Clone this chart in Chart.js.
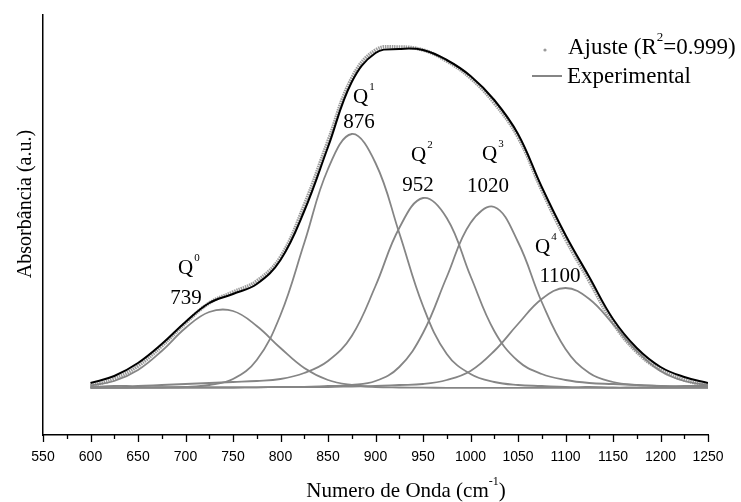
<!DOCTYPE html>
<html><head><meta charset="utf-8">
<script src="https://cdn.jsdelivr.net/npm/chart.js@4.4.1/dist/chart.umd.min.js"></script>
<style>html,body{margin:0;padding:0;background:#fff}#wrap{width:741px;height:502px;position:relative}canvas{display:block}</style>
</head><body><div id="wrap"><canvas id="c" width="741" height="502"></canvas></div>
<script>
// Wavenumber grid (cm-1)
const wavenumbers = [600, 625, 650, 675, 700, 725, 750, 775, 800, 825, 850, 875, 900, 925, 950, 975, 1000, 1025, 1050, 1075, 1100, 1125, 1150, 1175, 1200, 1225, 1250];
// Measured spectrum (black line), absorbance a.u.
const experimental = [5, 12, 25, 44, 66, 85, 94, 104, 128, 177, 241, 306, 335, 339, 338, 328, 312, 288, 254, 201, 153, 111, 69, 40, 21, 11, 5];
// Fit (grey dots)
const ajuste = [2, 9, 22, 42, 65, 85, 96, 107, 131, 183, 247, 310, 338, 341, 338, 327, 310, 285, 251, 198, 149, 107, 65, 36, 18, 8, 2];
// Deconvoluted components
const q0 = [2.5, 7, 18, 37, 60, 76, 77, 62, 40, 20, 8, 3, 1, 0.5, 0.3, 0.2, 0.2, 0.2, 0.2, 0.2, 0.2, 0.2, 0.2, 0.2, 0.2, 0.2, 0.2];
const q1 = [0, 0.2, 0.3, 0.5, 1, 3, 9, 28, 73, 145, 219, 254, 225, 155, 82, 34, 14, 6, 3, 2, 1, 1, 0.5, 0.5, 0.3, 0.3, 0.3];
const q2 = [1, 2, 2, 3, 4, 5, 6, 7, 9, 15, 27, 52, 102, 160, 190, 170, 112, 57, 27, 14, 8, 5, 4, 3, 2, 2, 2];
const q3 = [0.5, 0.5, 0.5, 0.5, 0.5, 0.5, 0.5, 0.7, 1, 1, 2, 3, 7, 21, 55, 111, 165, 181, 146, 86, 39, 15, 6, 3, 2, 1, 1];
const q4 = [0.5, 0.5, 0.5, 0.5, 0.5, 0.5, 0.5, 0.7, 1, 1, 1, 1.5, 2, 3, 4, 8, 17, 37, 64, 89, 100, 89, 64, 37, 17, 7, 3];
// Peak labels
const peakNames = ['0', '1', '2', '3', '4'];
const peakPositions = ['739', '876', '952', '1020', '1100'];
const xTickStep = 25;

const pts = arr => arr.map((v, i) => ({x: wavenumbers[i], y: v}));
const compStyle = {borderColor: '#858585', borderWidth: 1.8, pointRadius: 0, tension: 0.4, fill: false, order: 1};

const SERIF = '"Liberation Serif", "Times New Roman", serif';

const decor = {
  id: 'decor',
  afterDraw(chart) {
    const ctx = chart.ctx, xs = chart.scales.x, ca = chart.chartArea;
    ctx.save();
    // x ticks (major/minor)
    ctx.strokeStyle = '#000'; ctx.lineWidth = 1.3;
    xs.ticks.forEach(t => {
      const x = Math.round(xs.getPixelForValue(t.value)) + 0.5;
      const len = (t.value % 50 === 0) ? 7 : 4;
      ctx.beginPath(); ctx.moveTo(x, ca.bottom); ctx.lineTo(x, ca.bottom + len); ctx.stroke();
    });
    ctx.fillStyle = '#000';
    ctx.textBaseline = 'middle';
    // y title
    ctx.save();
    ctx.translate(26, 204); ctx.rotate(-Math.PI / 2);
    ctx.font = '20px ' + SERIF; ctx.textAlign = 'center';
    ctx.fillText('Absorbância (a.u.)', 0, 0);
    ctx.restore();
    // x title
    const main = 'Numero de Onda (cm', sup = '-1', end = ')';
    ctx.font = '21px ' + SERIF; const w1 = ctx.measureText(main).width, w3 = ctx.measureText(end).width;
    ctx.font = '12px ' + SERIF; const w2 = ctx.measureText(sup).width;
    let x0 = 406 - (w1 + w2 + w3) / 2; const ty = 491;
    ctx.textAlign = 'left';
    ctx.font = '21px ' + SERIF; ctx.fillText(main, x0, ty);
    ctx.font = '12px ' + SERIF; ctx.fillText(sup, x0 + w1, ty - 9);
    ctx.font = '21px ' + SERIF; ctx.fillText(end, x0 + w1 + w2, ty);
    // peak labels
    const lab = [
      {qx: 178, qy: 268, nx: 186, ny: 298},
      {qx: 353, qy: 97, nx: 359, ny: 122},
      {qx: 411, qy: 155, nx: 418, ny: 185},
      {qx: 482, qy: 154, nx: 488, ny: 186},
      {qx: 535, qy: 247, nx: 560, ny: 276}
    ];
    lab.forEach((p, i) => {
      ctx.textAlign = 'left';
      ctx.font = '21px ' + SERIF; ctx.fillText('Q', p.qx, p.qy);
      const qw = ctx.measureText('Q').width;
      ctx.font = '11px ' + SERIF; ctx.fillText(peakNames[i], p.qx + qw + 1, p.qy - 10);
      ctx.textAlign = 'center';
      ctx.font = '21px ' + SERIF; ctx.fillText(peakPositions[i], p.nx, p.ny);
    });
    // legend
    ctx.textAlign = 'left';
    ctx.fillStyle = '#9a9a9a';
    ctx.beginPath(); ctx.arc(545, 50, 1.6, 0, Math.PI * 2); ctx.fill();
    ctx.strokeStyle = '#858585'; ctx.lineWidth = 2;
    ctx.beginPath(); ctx.moveTo(532, 76); ctx.lineTo(562, 76); ctx.stroke();
    ctx.fillStyle = '#000';
    ctx.font = '23px ' + SERIF;
    const a1 = 'Ajuste (R'; ctx.fillText(a1, 568, 48);
    const aw = ctx.measureText(a1).width;
    ctx.font = '13px ' + SERIF; ctx.fillText('2', 568 + aw, 38);
    const sw = ctx.measureText('2').width;
    ctx.font = '23px ' + SERIF; ctx.fillText('=0.999)', 568 + aw + sw, 48);
    ctx.fillText('Experimental', 567, 77);
    ctx.restore();
  }
};

new Chart(document.getElementById('c'), {
  type: 'line',
  data: {
    datasets: [
      {label: 'Experimental', data: pts(experimental), borderColor: '#000', borderWidth: 2, pointRadius: 0, tension: 0.4, fill: false, order: 0},
      Object.assign({label: 'Q0', data: pts(q0)}, compStyle),
      Object.assign({label: 'Q1', data: pts(q1)}, compStyle),
      Object.assign({label: 'Q2', data: pts(q2)}, compStyle),
      Object.assign({label: 'Q3', data: pts(q3)}, compStyle),
      Object.assign({label: 'Q4', data: pts(q4)}, compStyle),
      {label: 'Ajuste', data: pts(ajuste), borderColor: '#9c9c9c', borderWidth: 3.5, borderDash: [1.5, 0.8], pointRadius: 0, tension: 0.4, fill: false, order: 2}
    ]
  },
  options: {
    responsive: false,
    animation: false,
    devicePixelRatio: 1,
    layout: {padding: {top: 15, right: 33, left: 0, bottom: 0}},
    plugins: {legend: {display: false}, tooltip: {enabled: false}},
    scales: {
      x: {
        type: 'linear', min: 550, max: 1250,
        afterFit: s => { s.height = 67; },
        ticks: {stepSize: xTickStep, autoSkip: false, maxRotation: 0, padding: 14, color: '#000',
          font: {family: '"Liberation Sans", Arial, sans-serif', size: 14},
          callback: v => (v % 50 === 0 ? String(v) : '')},
        grid: {display: true, drawOnChartArea: false, drawTicks: false},
        border: {display: true, color: '#000', width: 1.5}
      },
      y: {
        min: -47, max: 373,
        afterFit: s => { s.width = 43; },
        ticks: {display: false},
        grid: {display: true, drawOnChartArea: false, drawTicks: false},
        border: {display: true, color: '#000', width: 1.5}
      }
    }
  },
  plugins: [decor]
});
</script>
</body></html>
